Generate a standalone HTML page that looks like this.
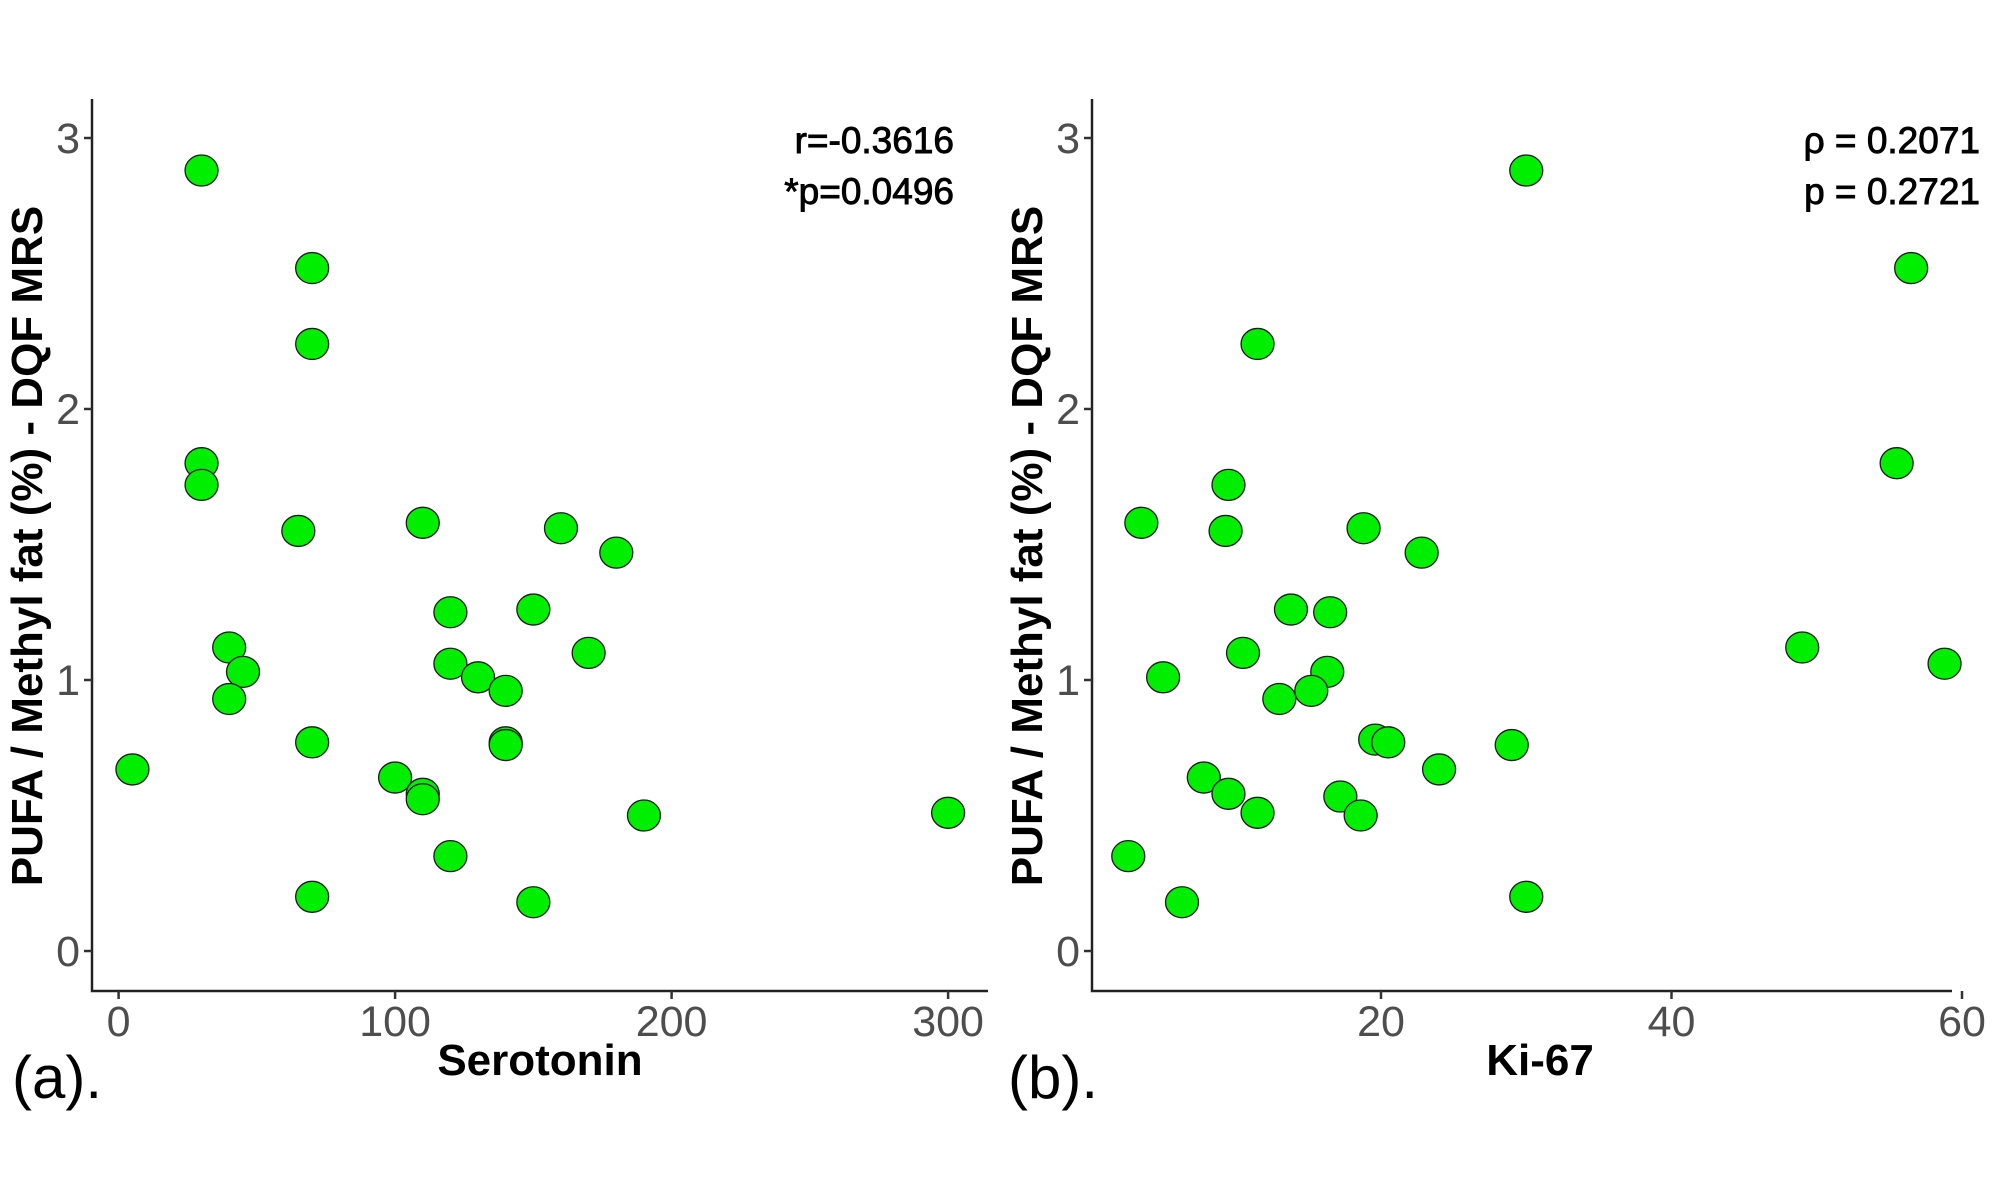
<!DOCTYPE html>
<html><head><meta charset="utf-8"><style>
html,body{margin:0;padding:0;background:#fff;}
svg{display:block;font-family:"Liberation Sans",Arial,sans-serif;}
</style></head><body>
<svg id="chart" width="2000" height="1179" viewBox="0 0 2000 1179" xmlns="http://www.w3.org/2000/svg"></svg>
<script>
const serotoninX=[30,70,70,30,30,65,110,160,180,120,150,40,45,40,170,120,130,140,70,140,140,5,100,110,110,190,300,120,70,150];
const serotoninY=[2.88,2.52,2.24,1.80,1.72,1.55,1.58,1.56,1.47,1.25,1.26,1.12,1.03,0.93,1.10,1.06,1.01,0.96,0.77,0.77,0.76,0.67,0.64,0.58,0.56,0.50,0.51,0.35,0.20,0.18];
const ki67X=[30,56.5,11.5,55.5,9.5,3.5,9.3,18.8,22.8,13.8,16.5,10.5,49,58.8,5,16.3,15.2,13,19.6,20.5,29,24,7.8,9.5,17.2,11.5,18.6,2.6,6.3,30];
const ki67Y=[2.88,2.52,2.24,1.80,1.72,1.58,1.55,1.56,1.47,1.26,1.25,1.10,1.12,1.06,1.01,1.03,0.96,0.93,0.78,0.77,0.76,0.67,0.64,0.58,0.57,0.51,0.50,0.35,0.18,0.20];
const yTicks=[0,1,2,3];
const serotoninTicks=[0,100,200,300];
const ki67Ticks=[20,40,60];
const annA=["r=-0.3616","*p=0.0496"];
const annB=["\u03C1 = 0.2071","p = 0.2721"];

const NS="http://www.w3.org/2000/svg";
const svg=document.getElementById('chart');
function el(tag,attrs,parent){const e=document.createElementNS(NS,tag);for(const k in attrs)e.setAttribute(k,attrs[k]);(parent||svg).appendChild(e);return e;}

function panel(cfg){
  const g=el('g',{});
  
  
  const y=v=>951-(v)*271;
  const x=v=>cfg.x0+(v-cfg.xv0)*cfg.kx;
  const ax=el('path',{d:`M${cfg.ax} 99 V991 H${cfg.ax2}`,stroke:'#222',fill:'none','stroke-width':2.5},g);
  
  
  yTicks.forEach(t=>{
    el('line',{x1:cfg.ax-8,x2:cfg.ax,y1:y(t),y2:y(t),stroke:'#333','stroke-width':2.5},g);
    const tx=el('text',{x:cfg.ax-12,y:y(t)+15,'text-anchor':'end','font-size':43,fill:'#4d4d4d'},g);
    tx.textContent=t;
    
    
  });
  cfg.xticks.forEach(t=>{
    el('line',{x1:x(t),x2:x(t),y1:991,y2:999,stroke:'#333','stroke-width':2.5},g);
    const tx=el('text',{x:x(t),y:1036,'text-anchor':'middle','font-size':43,fill:'#4d4d4d'},g);
    tx.textContent=t;
    
    
  });
  cfg.xs.forEach((v,i)=>{
    const c=el('ellipse',{cx:x(v),cy:y(cfg.ys[i]),rx:16.5,ry:15.5,fill:'#00ee00',stroke:'#1a1a1a','stroke-width':1.3},g);
    
    
  });
  const yt=el('text',{x:0,y:0,transform:`translate(${cfg.ax-50},546) rotate(-90)`,'text-anchor':'middle','font-size':44,'font-weight':'bold',fill:'#000'},g);
  yt.textContent='PUFA / Methyl fat (%) - DQF MRS';
  
  
  const xt=el('text',{x:cfg.xtc,y:1075,'text-anchor':'middle','font-size':44,'font-weight':'bold',fill:'#000'},g);
  xt.textContent=cfg.xtitle;
  
  
  cfg.ann.forEach((s,i)=>{
    const a=el('text',{x:cfg.annx,y:153+i*51,'text-anchor':'end','font-size':37,stroke:'#000','stroke-width':0.9,fill:'#000'},g);
    a.textContent=s;
    
    
  });
  const lab=el('text',{x:cfg.labx,y:1098,'font-size':60,fill:'#000'},g);
  lab.textContent=cfg.lab;
  
  
}
panel({name:'panel-a-serotonin',ax:92,ax2:988,x0:118.6,xv0:0,kx:2.765,xticks:serotoninTicks,xs:serotoninX,ys:serotoninY,xtitle:'Serotonin',xtc:540,ann:annA,annx:954,lab:'(a).',labx:12});
panel({name:'panel-b-ki67',ax:1092,ax2:1952,x0:1381,xv0:20,kx:14.525,xticks:ki67Ticks,xs:ki67X,ys:ki67Y,xtitle:'Ki-67',xtc:1540,ann:annB,annx:1980,lab:'(b).',labx:1008});
</script>
</body></html>
